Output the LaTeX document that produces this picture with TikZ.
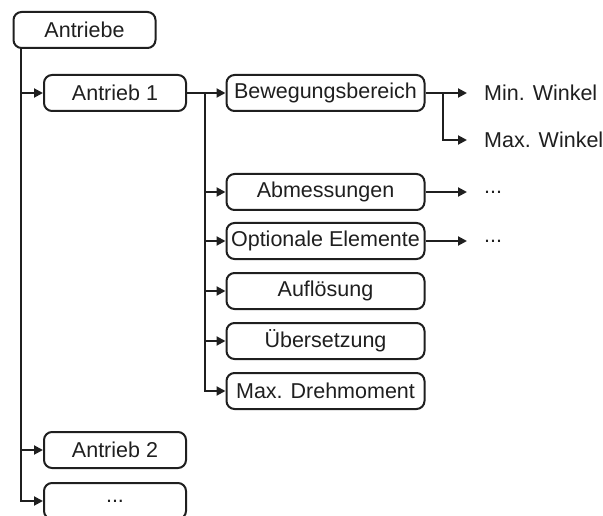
\documentclass[tikz,border=0pt]{standalone}
\usepackage{fontspec}
\setmainfont{Liberation Sans}
\usetikzlibrary{arrows.meta}
\begin{document}
\begin{tikzpicture}[x=1pt,y=-1pt,
  box/.style={draw=black!88, line width=2pt, rounded corners=8pt, minimum height=36pt, inner sep=0pt, font=\fontsize{21.5}{25}\selectfont, text=black!88},
  topbox/.style={box, minimum width=142pt},
  subbox/.style={box, minimum width=198pt},
  leaf/.style={anchor=west, inner xsep=17pt, inner ysep=0pt, font=\fontsize{21.5}{25}\selectfont, text=black!88},
  conn/.style={draw=black!88, line width=2pt, -{Triangle[length=9pt,width=9pt]}}
]
\useasboundingbox (0,0) rectangle (603,516);
\node[topbox] (root) at (84.5,30) {Antriebe};
\node[topbox] (a1) at (115,93) {Antrieb 1};
\node[topbox] (a2) at (115,450) {Antrieb 2};
\node[topbox] (a3) at (115,501) {...};
\node[subbox] (b1) at (325.5,93) {Bewegungsbereich};
\node[subbox] (b2) at (325.5,192) {Abmessungen};
\node[subbox] (b3) at (325.5,241) {Optionale Elemente};
\node[subbox] (b4) at (325.5,291) {Auflösung};
\node[subbox] (b5) at (325.5,341) {Übersetzung};
\node[subbox] (b6) at (325.5,391) {Max. Drehmoment};
\node[leaf] (m1) at (467,93) {Min. Winkel};
\node[leaf] (m2) at (467,140) {Max. Winkel};
\node[leaf] (d1) at (467,192) {...};
\node[leaf] (d2) at (467,241) {...};
\coordinate (t0) at (21,0);
\coordinate (t1) at (205,0);
\coordinate (t2) at (443,0);
\draw[conn] (root.south -| t0) |- (a1.west);
\draw[conn] (root.south -| t0) |- (a2.west);
\draw[conn] (root.south -| t0) |- (a3.west);
\draw[conn] (a1.east) -- (b1.west);
\draw[conn] (a1.east -| t1) |- (b2.west);
\draw[conn] (a1.east -| t1) |- (b3.west);
\draw[conn] (a1.east -| t1) |- (b4.west);
\draw[conn] (a1.east -| t1) |- (b5.west);
\draw[conn] (a1.east -| t1) |- (b6.west);
\draw[conn] (b1.east) -- (m1.west);
\draw[conn] (b1.east -| t2) |- (m2.west);
\draw[conn] (b2.east) -- (d1.west);
\draw[conn] (b3.east) -- (d2.west);
\end{tikzpicture}
\end{document}
